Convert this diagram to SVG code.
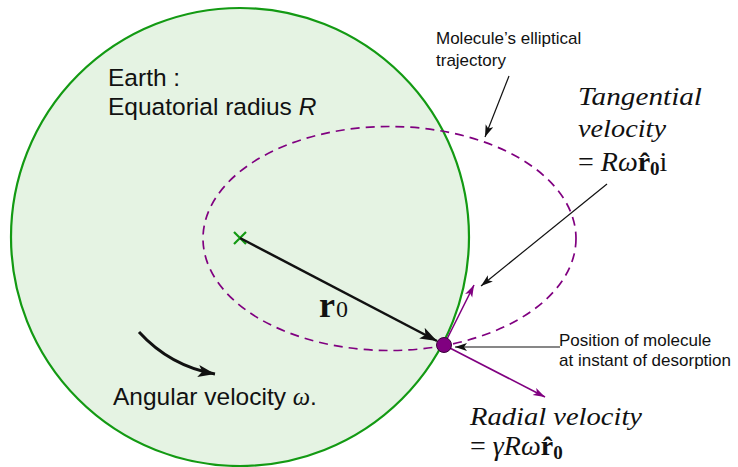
<svg xmlns="http://www.w3.org/2000/svg" width="738" height="467" viewBox="0 0 738 467">
<style>
.sans{font-family:"Liberation Sans","DejaVu Sans",sans-serif;fill:#111}
.math{font-family:"Liberation Serif","DejaVu Serif",serif;fill:#111}
.it{font-style:italic}
.ptr{stroke:#111;stroke-width:1.2;fill:none}
.vec{stroke:#800080;stroke-width:1.6;fill:none}
</style>
<defs>
<marker id="ah" markerUnits="userSpaceOnUse" markerWidth="14" markerHeight="10" refX="12" refY="4" orient="auto">
<path d="M0,0 L12,4 L0,8 L3,4 Z" fill="#111"/>
</marker>
<marker id="ahp" markerUnits="userSpaceOnUse" markerWidth="14" markerHeight="10" refX="12" refY="4" orient="auto">
<path d="M0,0 L12,4 L0,8 L3,4 Z" fill="#800080"/>
</marker>
<marker id="ahb" markerUnits="userSpaceOnUse" markerWidth="20" markerHeight="14" refX="17" refY="6" orient="auto">
<path d="M0,0 L17,6 L0,12 L4,6 Z" fill="#111"/>
</marker>
</defs>

<g id="earth">
<circle cx="240" cy="237" r="229" fill="#e5f3e3" stroke="#139a13" stroke-width="2.2"/>
<text class="sans" x="108" y="86" font-size="24.5">Earth :</text>
<text class="sans" x="108" y="115" font-size="24.5">Equatorial radius <tspan font-style="italic">R</tspan></text>
</g>

<g id="center">
<path d="M234,232 L246,244 M246,232 L234,244" stroke="#139a13" stroke-width="2.2"/>
</g>

<g id="trajectory">
<ellipse cx="389.5" cy="238.5" rx="186.5" ry="112" fill="none" stroke="#800080" stroke-width="1.7" stroke-dasharray="9 6"/>
</g>

<g id="connectors">
<line x1="240" y1="238" x2="437" y2="341" stroke="#111" stroke-width="2.5" marker-end="url(#ahb)"/>
<path d="M139,332 Q170,366 215,374" stroke="#111" stroke-width="3" fill="none" marker-end="url(#ahb)"/>
<line class="vec" x1="444" y1="345" x2="474" y2="285" marker-end="url(#ahp)"/>
<line class="vec" x1="444" y1="345" x2="545" y2="397" marker-end="url(#ahp)"/>
<line class="ptr" x1="509" y1="76" x2="485" y2="137" marker-end="url(#ah)"/>
<line class="ptr" x1="607" y1="184" x2="481" y2="286" marker-end="url(#ah)"/>
<line class="ptr" x1="560" y1="347" x2="455" y2="347" marker-end="url(#ah)"/>
</g>

<g id="molecule">
<circle cx="444" cy="345" r="7.5" fill="#800080" stroke="#3a003a" stroke-width="1"/>
</g>

<g id="r0-label">
<text class="math" x="319" y="317" font-size="36"><tspan font-weight="bold">r</tspan><tspan font-size="24" dx="1">0</tspan></text>
</g>

<g id="traj-label">
<text class="sans" x="436" y="44" font-size="17">Molecule’s elliptical</text>
<text class="sans" x="436" y="66" font-size="17">trajectory</text>
</g>

<g id="tangential-label">
<text class="math it" x="578" y="105" font-size="26" textLength="124" lengthAdjust="spacingAndGlyphs">Tangential</text>
<text class="math it" x="578" y="137" font-size="26" textLength="88" lengthAdjust="spacingAndGlyphs">velocity</text>
<text class="math" x="578" y="171" font-size="28">= <tspan font-style="italic">Rω</tspan><tspan font-weight="bold">r̂</tspan><tspan font-weight="bold" font-size="19" dy="4">0</tspan><tspan dy="-4">i</tspan></text>
</g>

<g id="position-label">
<text class="sans" x="559" y="346" font-size="17">Position of molecule</text>
<text class="sans" x="559" y="366" font-size="17">at instant of desorption</text>
</g>

<g id="radial-label">
<text class="math it" x="470" y="425" font-size="26" textLength="172" lengthAdjust="spacingAndGlyphs">Radial velocity</text>
<text class="math" x="470" y="455" font-size="28">= <tspan font-style="italic">γRω</tspan><tspan font-weight="bold">r̂</tspan><tspan font-weight="bold" font-size="19" dy="4">0</tspan></text>
</g>

<g id="angular-label">
<text class="sans" x="113" y="405" font-size="24.5">Angular velocity <tspan class="math" font-style="italic">ω</tspan>.</text>
</g>
</svg>
